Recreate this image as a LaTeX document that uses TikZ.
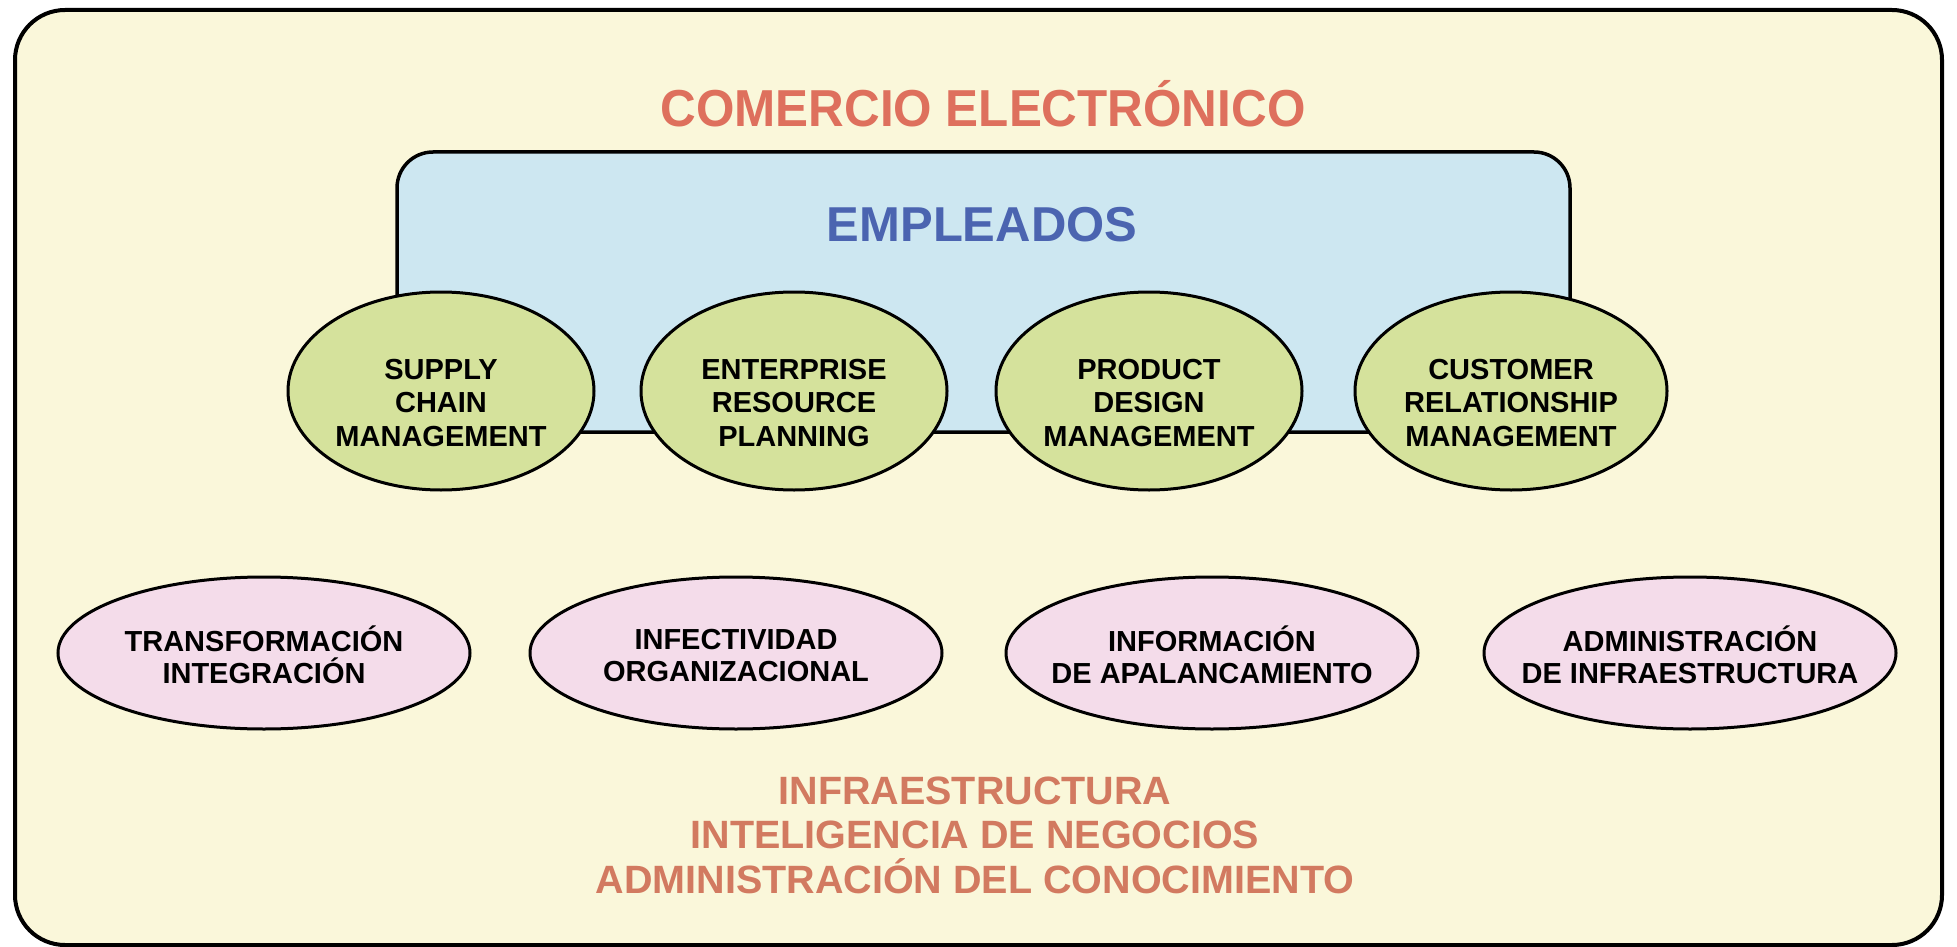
\documentclass[tikz,border=0pt]{standalone}
\usepackage{fontspec}
\setmainfont{Liberation Sans}
\newfontfamily\lab{Liberation Sans}
\newfontfamily\ttl{Liberation Sans}[FakeStretch=0.95]
\usetikzlibrary{shapes.geometric}
\definecolor{bgyel}{HTML}{FAF7DA}
\definecolor{bluefill}{HTML}{CDE7F1}
\definecolor{greenfill}{HTML}{D5E29C}
\definecolor{pinkfill}{HTML}{F4DCEA}
\definecolor{titlered}{HTML}{DE705D}
\definecolor{emplblue}{HTML}{4B64B0}
\definecolor{bottomred}{HTML}{D27A60}
\tikzset{
  outerbox/.style={draw=black, line width=4pt, fill=bgyel, rounded corners=50pt},
  empbox/.style={draw=black, line width=3.5pt, fill=bluefill, rounded corners=36pt},
  greenell/.style={ellipse, draw=black, line width=3pt, fill=greenfill,
    minimum width=306pt, minimum height=198pt, inner sep=0pt},
  pinkell/.style={ellipse, draw=black, line width=3pt, fill=pinkfill,
    minimum width=412pt, minimum height=152pt, inner sep=0pt},
  greentext/.style={align=center, inner sep=0pt,
    font={\lab\bfseries\fontsize{29}{33.5}\selectfont}},
  pinktext/.style={align=center, inner sep=0pt,
    font={\lab\bfseries\fontsize{29}{32}\selectfont}},
  titletext/.style={text=titlered, font={\ttl\bfseries\fontsize{52}{56}\selectfont}},
  emptext/.style={text=emplblue, font={\lab\bfseries\fontsize{49}{52}\selectfont}},
  bottomtext/.style={text=bottomred, align=center, inner sep=0pt,
    font={\lab\bfseries\fontsize{39.5}{44.5}\selectfont}}
}
\begin{document}
\begin{tikzpicture}[x=1pt,y=-1pt]
\useasboundingbox (0,0) rectangle (1957,947);
\fill[white] (0,0) rectangle (1957,947);
\draw[outerbox] (15,10) rectangle (1942,945);
\draw[empbox] (397,152) rectangle (1570,432);
\node[titletext] (title) at (983,104) {COMERCIO ELECTRÓNICO};
\node[emptext] (empleados) at (982,225) {EMPLEADOS};
% green ellipses
\node[greenell] (scm) at (441,391) {};
\node[greenell] (erp) at (794,391) {};
\node[greenell] (pdm) at (1149,391) {};
\node[greenell, minimum width=312pt] (crm) at (1511,391) {};
\node[greentext] (scmt) at ([yshift=-12pt]scm.center) {SUPPLY\\CHAIN\\MANAGEMENT};
\node[greentext] (erpt) at ([yshift=-12pt]erp.center) {ENTERPRISE\\RESOURCE\\PLANNING};
\node[greentext] (pdmt) at ([yshift=-12pt]pdm.center) {PRODUCT\\DESIGN\\MANAGEMENT};
\node[greentext] (crmt) at ([yshift=-12pt]crm.center) {CUSTOMER\\RELATIONSHIP\\MANAGEMENT};
% pink ellipses
\node[pinkell] (ti) at (264,653) {};
\node[pinkell] (io) at (736,653) {};
\node[pinkell] (ia) at (1212,653) {};
\node[pinkell] (ai) at (1690,653) {};
\node[pinktext] (tit) at ([yshift=-2pt]ti.center) {TRANSFORMACIÓN\\INTEGRACIÓN};
\node[pinktext] (iot) at ([yshift=-3pt]io.center) {INFECTIVIDAD\\ORGANIZACIONAL};
\node[pinktext] (iat) at ([yshift=-2pt]ia.center) {INFORMACIÓN\\DE APALANCAMIENTO};
\node[pinktext] (ait) at ([yshift=-2pt]ai.center) {ADMINISTRACIÓN\\DE INFRAESTRUCTURA};
\node[bottomtext] (infra) at (975,835) {INFRAESTRUCTURA\\INTELIGENCIA DE NEGOCIOS\\ADMINISTRACIÓN DEL CONOCIMIENTO};
\end{tikzpicture}
\end{document}
